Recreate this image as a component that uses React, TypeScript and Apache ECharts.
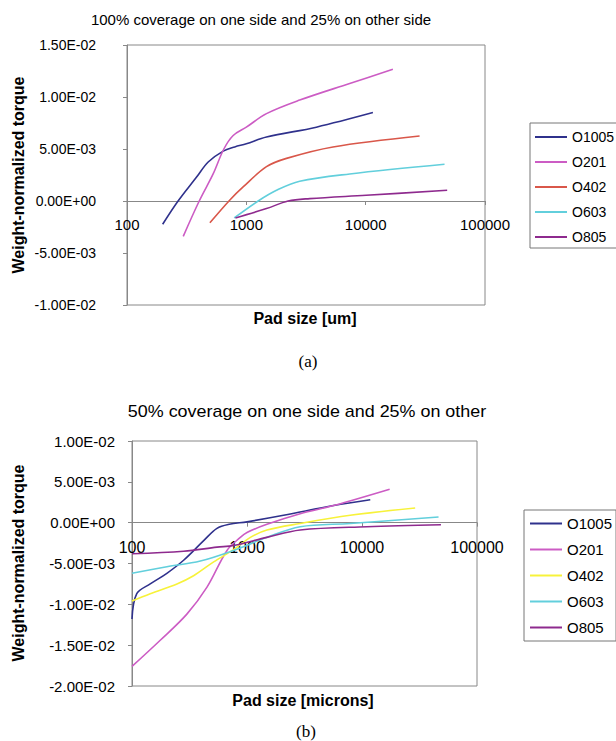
import React, { useEffect, useRef } from "react";
import * as echarts from "echarts";

// ---------- data ----------
const seriesNames = ["O1005", "O201", "O402", "O603", "O805"];
const xTickLabels = ["100", "1000", "10000", "100000"];

// chart (a): 100% coverage on one side and 25% on other side
const a_O1005 = [[199, -0.00224], [268, 0], [383, 0.0023], [479, 0.00375], [640, 0.0048], [800, 0.0052], [1000, 0.0055], [1475, 0.00615], [3860, 0.0071], [11500, 0.0085]];
const a_O201 = [[296, -0.0034], [403, 0], [527, 0.0026], [648, 0.005], [776, 0.0063], [1000, 0.0071], [1475, 0.0084], [2800, 0.0097], [7350, 0.0113], [16900, 0.01266]];
const a_O402 = [[495, -0.0021], [728, 0.0001], [940, 0.00135], [1475, 0.0033], [2170, 0.0041], [5320, 0.0052], [28300, 0.00625]];
const a_O603 = [[791, -0.00163], [1256, 0], [1790, 0.00103], [2800, 0.0019], [7350, 0.0026], [45800, 0.00353]];
const a_O805 = [[810, -0.00163], [1475, -0.00073], [2240, 0], [3400, 0.00023], [10100, 0.00055], [48200, 0.00103]];

// chart (b): 50% coverage on one side and 25% on other
const b_O1005 = [[100, -0.0118], [110, -0.0087], [144, -0.0075], [201, -0.0062], [281, -0.0046], [420, -0.0022], [548, -0.0007], [700, -0.0002], [1000, 0.0001], [2080, 0.0009], [5660, 0.0021], [11800, 0.0028]];
const b_O201 = [[100, -0.0176], [176, -0.0144], [300, -0.0112], [449, -0.0079], [670, -0.0034], [875, -0.0018], [1000, -0.0012], [1490, -0.0002], [2900, 0.0011], [5660, 0.0021], [17400, 0.0041]];
const b_O402 = [[100, -0.0096], [144, -0.0087], [246, -0.0075], [343, -0.0065], [513, -0.0048], [765, -0.0033], [1070, -0.0018], [1490, -0.0009], [2900, -0.0001], [7900, 0.0009], [29000, 0.0018]];
const b_O603 = [[100, -0.0062], [201, -0.0054], [393, -0.0047], [765, -0.0034], [1490, -0.0018], [2900, -0.0005], [7900, -0.0001], [46300, 0.0007]];
const b_O805 = [[100, -0.0038], [281, -0.0035], [548, -0.003], [765, -0.0028], [1490, -0.0018], [2900, -0.0009], [11000, -0.0005], [48600, -0.00025]];

const aData = [a_O1005, a_O201, a_O402, a_O603, a_O805];
const bData = [b_O1005, b_O201, b_O402, b_O603, b_O805];

const aColors = ["#2f318c", "#cc5cc4", "#d9574a", "#62cfdc", "#8e2a8e"];
const bColors = ["#2f318c", "#cc5cc4", "#f7f23a", "#62cfdc", "#8e2a8e"];

const titleA = "100% coverage on one side and 25% on other side";
const titleB = "50% coverage on one side and 25% on other";
const yName = "Weight-normalized torque";
const xNameA = "Pad size [um]";
const xNameB = "Pad size [microns]";

// y ranges
const aYMin = -0.01, aYMax = 0.015;
const bYMin = -0.02, bYMax = 0.01;

// ---------- helpers ----------
function fmtSci(v: number): string {
  if (Math.abs(v) < 1e-12) return "0.00E+00";
  const s = v.toExponential(2);
  const [m, e] = s.split("e");
  const n = parseInt(e, 10);
  return m + "E" + (n < 0 ? "-" : "+") + String(Math.abs(n)).padStart(2, "0");
}
function fmtX(v: number): string {
  const r = Math.round(v);
  const idx = [100, 1000, 10000, 100000].indexOf(r);
  return idx >= 0 ? xTickLabels[idx] : "";
}

const FONT = "Liberation Sans, Arial, sans-serif";
const GREY = "#888888";

// offset that moves a bottom x axis up to the y = 0 line
function zeroOffset(height: number, yMin: number, yMax: number) {
  return -height * (0 - yMin) / (yMax - yMin);
}

function xAxisCfg(gridIndex: number, fontSize: number, margin: number, offset: number) {
  return {
    type: "log",
    logBase: 10,
    gridIndex,
    position: "bottom",
    offset,
    min: 100,
    max: 100000,
    axisLine: { show: true, onZero: false, lineStyle: { color: GREY, width: 1 } },
    axisTick: { show: true, length: 4, lineStyle: { color: GREY } },
    minorTick: { show: false },
    splitLine: { show: false },
    axisLabel: {
      color: "#000",
      fontFamily: FONT,
      fontSize,
      margin,
      formatter: fmtX,
      showMinLabel: true,
      showMaxLabel: true,
    },
  };
}

function yAxisCfg(gridIndex: number, min: number, max: number, fontSize: number, margin: number) {
  return {
    type: "value",
    gridIndex,
    min,
    max,
    interval: 0.005,
    axisLine: { show: true, onZero: false, lineStyle: { color: GREY, width: 1 } },
    axisTick: { show: true, length: 4, inside: false, lineStyle: { color: GREY } },
    splitLine: { show: false },
    axisLabel: {
      color: "#000",
      fontFamily: FONT,
      fontSize,
      margin,
      formatter: fmtSci,
    },
  };
}

function makeSeries(data: number[][][], colors: string[], idx: number) {
  return data.map((d, i) => ({
    name: seriesNames[i],
    type: "line",
    xAxisIndex: idx,
    yAxisIndex: idx,
    data: d,
    smooth: 0.35,
    showSymbol: false,
    symbol: "none",
    lineStyle: { color: colors[i], width: 1.6 },
    itemStyle: { color: colors[i] },
    z: 3,
  }));
}

export default function App() {
  const ref = useRef<HTMLDivElement>(null);

  useEffect(() => {
    if (!ref.current) return;
    const chart = echarts.init(ref.current, null, { renderer: "svg" });

    const legendCfg = (colors: string[], left: number, top: number, fontSize: number, gap: number, padding: number[], iw: number) => ({
      orient: "vertical",
      left,
      top,
      itemWidth: iw,
      itemHeight: 2,
      itemGap: gap,
      icon: "rect",
      padding,
      borderColor: "#777",
      borderWidth: 1,
      backgroundColor: "#fff",
      selectedMode: false,
      textStyle: { color: "#000", fontFamily: FONT, fontSize },
      data: seriesNames.map((n, i) => ({ name: n, itemStyle: { color: colors[i] } })),
    });

    const aH = 260, bH = 245;

    chart.setOption({
      animation: false,
      backgroundColor: "#ffffff",
      grid: [
        { left: 127, top: 45, width: 358, height: aH, show: true, borderColor: GREY, borderWidth: 1, backgroundColor: "transparent" },
        { left: 132, top: 441, width: 345, height: bH, show: true, borderColor: GREY, borderWidth: 1, backgroundColor: "transparent" },
      ],
      xAxis: [
        xAxisCfg(0, 15, 16, zeroOffset(aH, aYMin, aYMax)),
        xAxisCfg(1, 16, 17, zeroOffset(bH, bYMin, bYMax)),
      ],
      yAxis: [yAxisCfg(0, aYMin, aYMax, 14, 31), yAxisCfg(1, bYMin, bYMax, 15, 17)],
      legend: [
        legendCfg(aColors, 530, 123, 14, 11, [7, 4, 4, 5], 32),
        legendCfg(bColors, 524, 510, 15, 11, [6, 4, 6, 6], 32),
      ],
      series: [...makeSeries(aData, aColors, 0), ...makeSeries(bData, bColors, 1)],
      graphic: [
        { type: "text", x: 261, y: 19, style: { text: titleA, fontFamily: FONT, fontSize: 15, fill: "#000", align: "center", verticalAlign: "middle" } },
        { type: "text", x: 307, y: 412, scaleX: 1.12, style: { text: titleB, fontFamily: FONT, fontSize: 16, fill: "#000", align: "center", verticalAlign: "middle" } },
        { type: "text", x: 18.5, y: 175, rotation: Math.PI / 2, style: { text: yName, fontFamily: FONT, fontSize: 16, fontWeight: "bold", fill: "#000", align: "center", verticalAlign: "middle" } },
        { type: "text", x: 18.5, y: 563, rotation: Math.PI / 2, style: { text: yName, fontFamily: FONT, fontSize: 16, fontWeight: "bold", fill: "#000", align: "center", verticalAlign: "middle" } },
        { type: "text", x: 305, y: 318, style: { text: xNameA, fontFamily: FONT, fontSize: 16, fontWeight: "bold", fill: "#000", align: "center", verticalAlign: "middle" } },
        { type: "text", x: 303, y: 700, style: { text: xNameB, fontFamily: FONT, fontSize: 16, fontWeight: "bold", fill: "#000", align: "center", verticalAlign: "middle" } },
        { type: "text", x: 308, y: 361, style: { text: "(a)", fontFamily: "Liberation Serif, Times New Roman, serif", fontSize: 17, fill: "#000", align: "center", verticalAlign: "middle" } },
        { type: "text", x: 306, y: 731, style: { text: "(b)", fontFamily: "Liberation Serif, Times New Roman, serif", fontSize: 17, fill: "#000", align: "center", verticalAlign: "middle" } },
      ],
    });

    return () => chart.dispose();
  }, []);

  return <div ref={ref} style={{ position: "absolute", left: 0, top: 0, width: 616, height: 741 }} />;
}
